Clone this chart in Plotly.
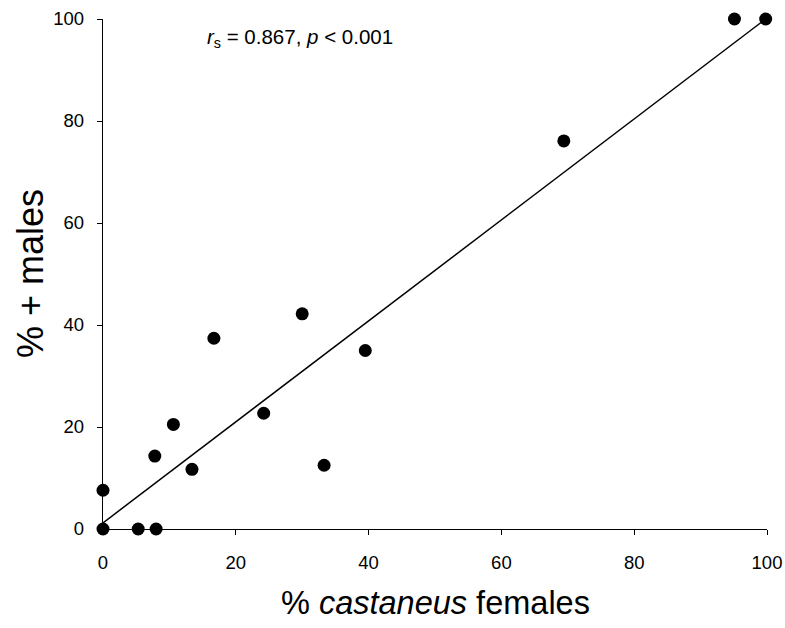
import numpy as np
import plotly.graph_objects as go

castaneus_females = [0, 0, 5.3, 8.0, 7.8, 10.6, 13.4, 16.7, 24.2, 30.0, 33.3, 39.5, 69.4, 95.1, 99.8]
plus_males = [7.6, 0, 0, 0, 14.3, 20.5, 11.7, 37.4, 22.7, 42.2, 12.5, 35.0, 76.1, 100, 100]
tick_vals = [0, 20, 40, 60, 80, 100]

# regression line
fit_intercept = 1.2
fit_slope = 0.99
fit_x_range = [0, 99.3]

line_x = np.array(fit_x_range)
line_y = fit_intercept + fit_slope * line_x

FONT = "Liberation Sans, Arial, sans-serif"
W, H = 785, 628
ML, MR, MT, MB = 103, 18, 19, 99

fig = go.Figure()
fig.add_trace(go.Scatter(x=line_x, y=line_y, mode="lines",
                         line=dict(color="black", width=1.5), cliponaxis=False, showlegend=False))
fig.add_trace(go.Scatter(x=castaneus_females, y=plus_males, mode="markers",
                         marker=dict(color="black", size=13), cliponaxis=False, showlegend=False))

fig.add_annotation(x=15.4, y=96.3, xref="x", yref="y", xanchor="left", yanchor="middle",
                   text="<i>r</i><sub>s</sub> = 0.867, <i>p</i> < 0.001", showarrow=False,
                   font=dict(size=20.5, color="black", family=FONT))

pw = W - ML - MR
ph = H - MT - MB
def px_to_paper(px, py):
    return (px - ML) / pw, (H - MB - py) / ph

xt_x, xt_y = px_to_paper(435, 603)
fig.add_annotation(x=xt_x, y=xt_y, xref="paper", yref="paper", xanchor="center", yanchor="middle",
                   showarrow=False, text="% <i>castaneus</i> females",
                   font=dict(size=32.5, color="black", family=FONT))
yt_x, yt_y = px_to_paper(30, 274)
fig.add_annotation(x=yt_x, y=yt_y, xref="paper", yref="paper", xanchor="center", yanchor="middle",
                   showarrow=False, textangle=-90, text="% + males",
                   font=dict(size=36, color="black", family=FONT))

axis_common = dict(showline=True, linecolor="black", linewidth=1.3, ticks="outside", ticklen=5,
                   tickcolor="black", tickwidth=1.3, showgrid=False, zeroline=False,
                   tickvals=tick_vals, tickfont=dict(size=18.5, color="black", family=FONT),
                   range=[0, 100], automargin=False)
fig.update_xaxes(**axis_common, ticklabelstandoff=12)
fig.update_yaxes(**axis_common, ticklabelstandoff=9)

fig.update_layout(width=W, height=H, plot_bgcolor="white", paper_bgcolor="white",
                  margin=dict(l=ML, r=MR, t=MT, b=MB),
                  font=dict(family=FONT, color="black"))

fig.write_html("out.html", config={"displayModeBar": False},
               post_script="document.body.style.margin='0px';document.body.style.padding='0px';")
